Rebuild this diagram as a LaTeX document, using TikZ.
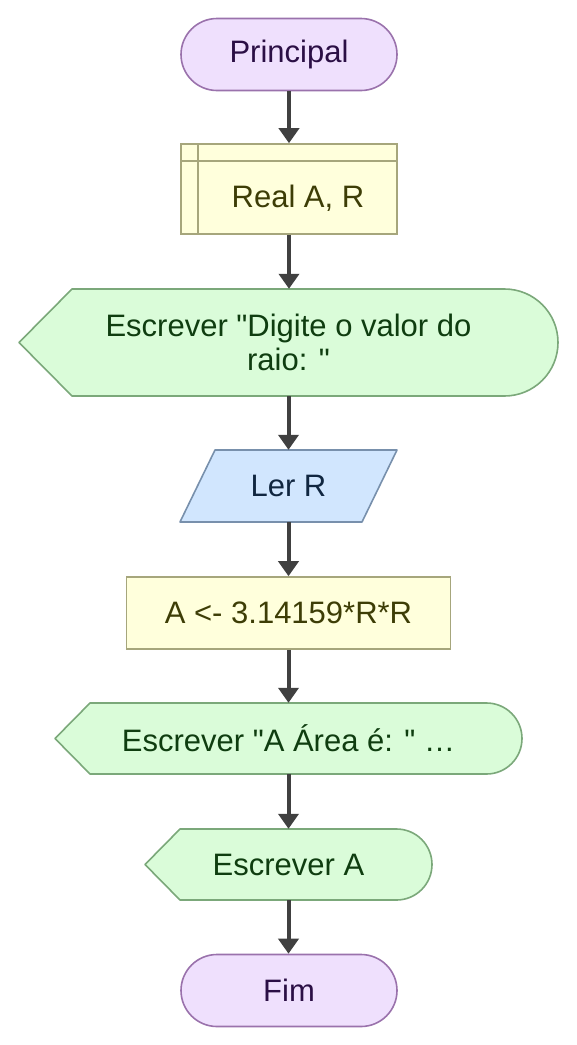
\documentclass[tikz,border=0pt]{standalone}
\usepackage{fontspec}
\setmainfont[Ligatures=TeXOff]{Liberation Sans}
\usetikzlibrary{shapes.misc,arrows.meta}
\definecolor{termfill}{HTML}{EFE0FD}
\definecolor{termdraw}{HTML}{9A72AC}
\definecolor{termtext}{HTML}{2B0F45}
\definecolor{declfill}{HTML}{FFFFDC}
\definecolor{decldraw}{HTML}{A6A67C}
\definecolor{decltext}{HTML}{3D3D06}
\definecolor{dispfill}{HTML}{DAFCD9}
\definecolor{dispdraw}{HTML}{7BA87A}
\definecolor{disptext}{HTML}{0F3D10}
\definecolor{inpfill}{HTML}{D1E6FE}
\definecolor{inpdraw}{HTML}{7890AC}
\definecolor{inptext}{HTML}{102640}
\definecolor{arrowc}{HTML}{404040}
\begin{document}
\begin{tikzpicture}[x=1pt,y=-1pt,
  font=\fontsize{31}{34}\selectfont,
  term/.style={rounded rectangle, draw=termdraw, fill=termfill, text=termtext, line width=1.6pt, minimum width=216pt, minimum height=72pt, inner sep=0pt},
  declbox/.style={rectangle, draw=decldraw, fill=declfill, line width=1.6pt, inner sep=0pt},
  proc/.style={rectangle, draw=decldraw, fill=declfill, text=decltext, line width=1.6pt, inner sep=0pt},
  dispshape/.style={draw=dispdraw, fill=dispfill, line width=1.6pt, line join=round},
  inpshape/.style={draw=inpdraw, fill=inpfill, line width=1.6pt, line join=round},
  shapetext/.style={inner sep=0pt, align=center},
  flow/.style={draw=arrowc, line width=4pt, -{Triangle[width=20pt,length=15pt]}},
]
\useasboundingbox (0,0) rectangle (577,1045);

% Principal
\node[term] (start) at (289,54.5) {Principal};

% Declaration
\node[declbox, minimum width=216pt, minimum height=90pt] (decl) at (289,189) {};
\draw[decldraw, line width=1.6pt] ([xshift=18pt]decl.north west) -- ([xshift=18pt]decl.south west);
\draw[decldraw, line width=1.6pt] ([yshift=-18pt]decl.north west) -- ([yshift=-18pt]decl.north east);
\node[shapetext, text=decltext] (declt) at (298,198) {Real A, R};

% Display 1
\path[dispshape] (19,342.5) -- (72,289) -- (504.5,289) arc[start angle=-90,end angle=90,radius=53.5] -- (72,396) -- cycle;
\node[shapetext, text=disptext, minimum width=539pt, minimum height=107pt] (d1) at (288.5,342.5) {Escrever "Digite o valor do\\raio: "};

% Input
\path[inpshape] (215,450) -- (397,450) -- (362,522) -- (180,522) -- cycle;
\node[shapetext, text=inptext, minimum width=217pt, minimum height=72pt] (ler) at (288.5,486) {Ler R};

% Process
\node[proc, minimum width=324pt, minimum height=72pt] (calc) at (288.5,613) {A <- 3.14159*R*R};

% Display 2
\path[dispshape] (55,738.5) -- (90,703) -- (486.5,703) arc[start angle=-90,end angle=90,radius=35.5] -- (90,774) -- cycle;
\node[shapetext, text=disptext, minimum width=467pt, minimum height=71pt] (d2) at (288.5,738.5) {Escrever "A Área é: " …};

% Display 3
\path[dispshape] (145,864.5) -- (180,829) -- (396.5,829) arc[start angle=-90,end angle=90,radius=35.5] -- (180,900) -- cycle;
\node[shapetext, text=disptext, minimum width=287pt, minimum height=71pt] (d3) at (288.5,864.5) {Escrever A};

% Fim
\node[term] (fim) at (289,990.5) {Fim};

% Connectors
\draw[flow] (start.south) -- (start.south |- decl.north);
\draw[flow] (decl.south) -- (decl.south |- d1.north);
\draw[flow] (d1.south) -- (d1.south |- ler.north);
\draw[flow] (ler.south) -- (ler.south |- calc.north);
\draw[flow] (calc.south) -- (calc.south |- d2.north);
\draw[flow] (d2.south) -- (d2.south |- d3.north);
\draw[flow] (d3.south) -- (d3.south |- fim.north);
\end{tikzpicture}
\end{document}
